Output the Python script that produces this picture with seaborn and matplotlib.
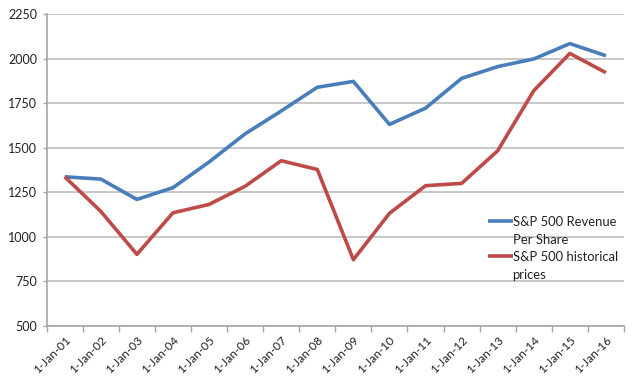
import matplotlib
matplotlib.use("Agg")
import matplotlib.pyplot as plt
import seaborn as sns
import pandas as pd
import numpy as np

dates = ["1-Jan-01", "1-Jan-02", "1-Jan-03", "1-Jan-04", "1-Jan-05", "1-Jan-06",
         "1-Jan-07", "1-Jan-08", "1-Jan-09", "1-Jan-10", "1-Jan-11", "1-Jan-12",
         "1-Jan-13", "1-Jan-14", "1-Jan-15", "1-Jan-16"]
revenue_per_share = [1337, 1324, 1210, 1276, 1420, 1578, 1706, 1839, 1872, 1631,
                     1722, 1889, 1955, 1998, 2084, 2016]
historical_prices = [1337, 1143, 902, 1135, 1182, 1284, 1427, 1378, 872, 1132,
                     1287, 1300, 1483, 1820, 2029, 1921]
series_names = ["S&P 500 Revenue\nPer Share", "S&P 500 historical\nprices"]
y_ticks = [500, 750, 1000, 1250, 1500, 1750, 2000, 2250]

sns.set_style("white")
plt.rcParams["font.family"] = ["Lato", "DejaVu Sans"]

pos = np.arange(len(dates))
df = pd.DataFrame({
    "pos": np.concatenate([pos, pos]),
    "value": revenue_per_share + historical_prices,
    "series": [series_names[0]] * len(dates) + [series_names[1]] * len(dates),
})

fig = plt.figure(figsize=(6.38, 3.85), dpi=100)
ax = fig.add_axes([0.0732, 0.1532, 0.9048, 0.8104])

sns.lineplot(data=df, x="pos", y="value", hue="series",
             palette=["#4a7ebb", "#be4b48"], linewidth=2.6, ax=ax,
             solid_joinstyle="round", solid_capstyle="butt")

ax.set_xlim(-0.5, len(dates) - 0.5)
ax.set_ylim(500, 2250)
ax.set_yticks(y_ticks)
ax.set_yticklabels([str(t) for t in y_ticks], fontsize=9, color="#222222")
ax.yaxis.grid(True, color="#bfbfbf", linewidth=1.2)
ax.set_axisbelow(True)

ax.set_xticks(pos)
ax.set_xticklabels(dates, rotation=45, ha="right", rotation_mode="anchor",
                   fontsize=8.6, color="#222222")
ax.set_xticks(np.arange(-0.5, len(dates), 1.0), minor=True)
ax.tick_params(axis="x", which="major", length=0, pad=6)
ax.tick_params(axis="x", which="minor", length=4, width=1, color="#a6a6a6", direction="out")
ax.tick_params(axis="y", which="major", length=3, width=1, color="#a6a6a6", pad=4)
ax.xaxis.set_ticks_position("bottom")
ax.yaxis.set_ticks_position("left")

for side in ["top", "right"]:
    ax.spines[side].set_visible(False)
for side in ["left", "bottom"]:
    ax.spines[side].set_color("#a6a6a6")
    ax.spines[side].set_linewidth(1.2)

ax.set_xlabel("")
ax.set_ylabel("")

leg = ax.legend(loc="upper left", bbox_to_anchor=(0.755, 0.37), frameon=False,
                fontsize=9.4, handlelength=1.9, handletextpad=0.0,
                labelspacing=0.4, borderaxespad=0)
for txt in leg.get_texts():
    txt.set_linespacing(1.6)
    txt.set_color("#222222")
for line in leg.get_lines():
    line.set_linewidth(2.6)
    y = line.get_ydata()
    line.set_ydata(np.asarray(y, dtype=float) + 7.5)

fig.savefig("out.png", dpi=100)
